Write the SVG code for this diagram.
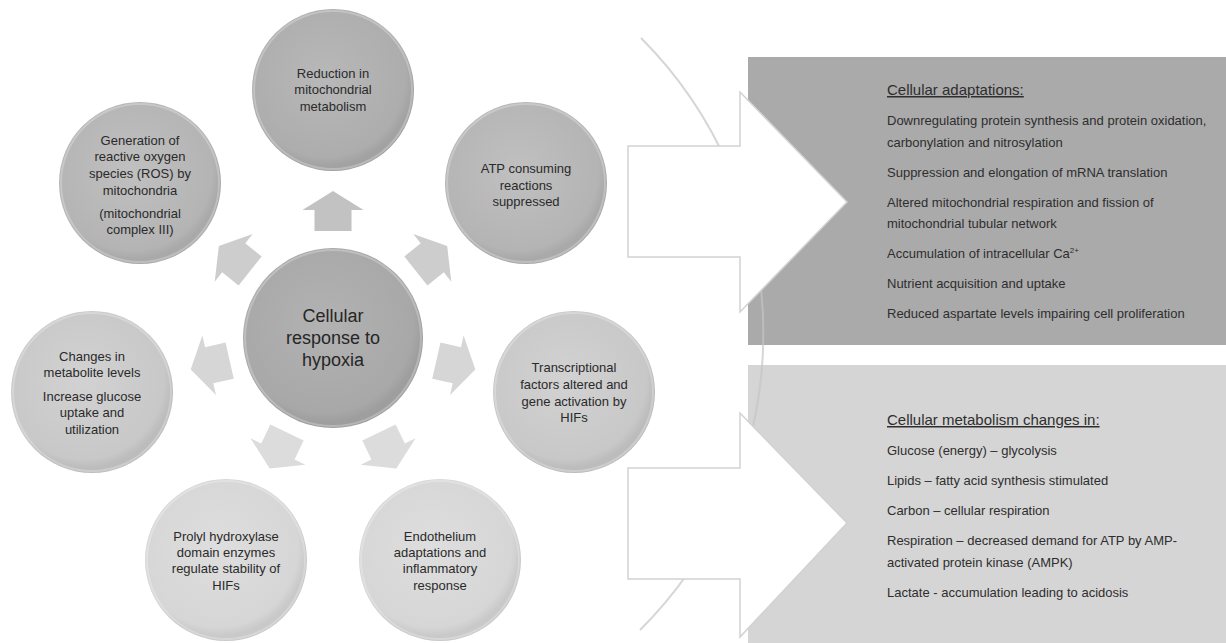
<svg xmlns="http://www.w3.org/2000/svg" width="1226" height="643" viewBox="0 0 1226 643">
<style>
.ct{font-family:"Liberation Sans",Arial,sans-serif;font-size:13px;fill:#2a2a2a;text-anchor:middle}
.cc{font-family:"Liberation Sans",Arial,sans-serif;font-size:18px;fill:#262626;text-anchor:middle}
.bt{font-family:"Liberation Sans",Arial,sans-serif;font-size:13px;fill:#2e2e2e}
.bh{font-family:"Liberation Sans",Arial,sans-serif;font-size:15px;fill:#2e2e2e;text-decoration:underline}
.big{fill:#ffffff;stroke:#d2d2d2;stroke-width:1.5}
.sa{stroke:none}
.rim{fill:none;stroke:#ffffff;stroke-opacity:0.25;stroke-width:2}
</style>
<defs>
<radialGradient id="g0" cx="45%" cy="42%" r="55%"><stop offset="0" stop-color="#b2b2b2"/><stop offset="0.9" stop-color="#a8a8a8"/><stop offset="1" stop-color="#9e9e9e"/></radialGradient>
<radialGradient id="g1" cx="45%" cy="42%" r="55%"><stop offset="0" stop-color="#b8b8b8"/><stop offset="0.9" stop-color="#adadad"/><stop offset="1" stop-color="#a2a2a2"/></radialGradient>
<radialGradient id="g2" cx="45%" cy="42%" r="55%"><stop offset="0" stop-color="#c0c0c0"/><stop offset="0.9" stop-color="#b4b4b4"/><stop offset="1" stop-color="#a9a9a9"/></radialGradient>
<radialGradient id="g3" cx="45%" cy="42%" r="55%"><stop offset="0" stop-color="#d2d2d2"/><stop offset="0.9" stop-color="#c8c8c8"/><stop offset="1" stop-color="#bcbcbc"/></radialGradient>
<radialGradient id="g4" cx="45%" cy="42%" r="55%"><stop offset="0" stop-color="#dedede"/><stop offset="0.9" stop-color="#d6d6d6"/><stop offset="1" stop-color="#c9c9c9"/></radialGradient>
<path id="sm" d="M-18.5,0 L18.5,0 L18.5,-21 L30.5,-21 L0,-40 L-30.5,-21 L-18.5,-21 Z"/>
</defs>
<rect width="1226" height="643" fill="#ffffff"/>

<g id="box-adaptations">
<rect x="748" y="57" width="478" height="288" fill="#aaaaaa"/>
<text class="bh" x="887" y="95">Cellular adaptations:</text>
<text class="bt" x="887" y="125">Downregulating protein synthesis and protein oxidation,</text>
<text class="bt" x="887" y="147">carbonylation and nitrosylation</text>
<text class="bt" x="887" y="177">Suppression and elongation of mRNA translation</text>
<text class="bt" x="887" y="207">Altered mitochondrial respiration and fission of</text>
<text class="bt" x="887" y="228">mitochondrial tubular network</text>
<text class="bt" x="887" y="258">Accumulation of intracellular Ca<tspan dy="-5" font-size="8">2+</tspan></text>
<text class="bt" x="887" y="288">Nutrient  acquisition and uptake</text>
<text class="bt" x="887" y="318">Reduced aspartate levels impairing cell proliferation</text>
</g>

<g id="box-metabolism">
<rect x="748" y="365" width="478" height="278" fill="#d5d5d5"/>
<text class="bh" x="887" y="425">Cellular metabolism changes in:</text>
<text class="bt" x="887" y="455">Glucose (energy) – glycolysis</text>
<text class="bt" x="887" y="485">Lipids – fatty  acid synthesis stimulated</text>
<text class="bt" x="887" y="515">Carbon – cellular respiration</text>
<text class="bt" x="887" y="545">Respiration – decreased demand for ATP by AMP-</text>
<text class="bt" x="887" y="567">activated protein kinase (AMPK)</text>
<text class="bt" x="887" y="597">Lactate  - accumulation  leading to acidosis</text>
</g>

<path d="M641,38 A418,418 0 0 1 640,630" fill="none" stroke="#c4c4c4" stroke-opacity="0.7" stroke-width="2"/>

<g id="connectors">
<path class="big" d="M628,146 L740,146 L740,92 L847,202 L740,312 L740,257 L628,257 Z"/>
<path class="big" d="M628,468 L740,468 L740,413 L847,523 L740,637 L740,579 L628,579 Z"/>
<use href="#sm" class="sa" fill="#c2c2c2" transform="translate(333,337) rotate(0) translate(0,-106)"/>
<use href="#sm" class="sa" fill="#cdcdcd" transform="translate(333,337) rotate(51.43) translate(0,-106)"/>
<use href="#sm" class="sa" fill="#d6d6d6" transform="translate(333,337) rotate(102.86) translate(0,-106)"/>
<use href="#sm" class="sa" fill="#dcdcdc" transform="translate(333,337) rotate(154.29) translate(0,-106)"/>
<use href="#sm" class="sa" fill="#dcdcdc" transform="translate(333,337) rotate(205.71) translate(0,-106)"/>
<use href="#sm" class="sa" fill="#d6d6d6" transform="translate(333,337) rotate(257.14) translate(0,-106)"/>
<use href="#sm" class="sa" fill="#cdcdcd" transform="translate(333,337) rotate(308.57) translate(0,-106)"/>
</g>

<g id="center">
<circle cx="333" cy="338" r="90" fill="url(#g0)"/>
<circle class="rim" cx="333" cy="338" r="88"/>
<text class="cc" x="333" y="322">Cellular</text>
<text class="cc" x="333" y="344">response to</text>
<text class="cc" x="333" y="366">hypoxia</text>
</g>

<g id="reduction">
<circle cx="333" cy="90" r="81" fill="url(#g1)"/>
<circle class="rim" cx="333" cy="90" r="79"/>
<text class="ct" x="333" y="77.5">Reduction in</text>
<text class="ct" x="333" y="94">mitochondrial</text>
<text class="ct" x="333" y="110.5">metabolism</text>
</g>

<g id="atp">
<circle cx="526" cy="183" r="81" fill="url(#g2)"/>
<circle class="rim" cx="526" cy="183" r="79"/>
<text class="ct" x="526" y="172.5">ATP consuming</text>
<text class="ct" x="526" y="189.5">reactions</text>
<text class="ct" x="526" y="206">suppressed</text>
</g>

<g id="transcriptional">
<circle cx="574" cy="392" r="81" fill="url(#g3)"/>
<circle class="rim" cx="574" cy="392" r="79"/>
<text class="ct" x="574" y="372">Transcriptional</text>
<text class="ct" x="574" y="389">factors altered and</text>
<text class="ct" x="574" y="406">gene activation by</text>
<text class="ct" x="574" y="422">HIFs</text>
</g>

<g id="endothelium">
<circle cx="440" cy="560" r="81" fill="url(#g4)"/>
<circle class="rim" cx="440" cy="560" r="79"/>
<text class="ct" x="440" y="541">Endothelium</text>
<text class="ct" x="440" y="557">adaptations and</text>
<text class="ct" x="440" y="573">inflammatory</text>
<text class="ct" x="440" y="590">response</text>
</g>

<g id="prolyl">
<circle cx="226" cy="560" r="81" fill="url(#g4)"/>
<circle class="rim" cx="226" cy="560" r="79"/>
<text class="ct" x="226" y="541">Prolyl hydroxylase</text>
<text class="ct" x="226" y="557">domain enzymes</text>
<text class="ct" x="226" y="573">regulate stability of</text>
<text class="ct" x="226" y="590">HIFs</text>
</g>

<g id="changes">
<circle cx="92" cy="392" r="81" fill="url(#g3)"/>
<circle class="rim" cx="92" cy="392" r="79"/>
<text class="ct" x="92" y="361">Changes in</text>
<text class="ct" x="92" y="377">metabolite levels</text>
<text class="ct" x="92" y="401">Increase glucose</text>
<text class="ct" x="92" y="417">uptake and</text>
<text class="ct" x="92" y="434">utilization</text>
</g>

<g id="ros">
<circle cx="140" cy="183" r="81" fill="url(#g2)"/>
<circle class="rim" cx="140" cy="183" r="79"/>
<text class="ct" x="140" y="144.5">Generation of</text>
<text class="ct" x="140" y="161">reactive oxygen</text>
<text class="ct" x="140" y="178">species (ROS) by</text>
<text class="ct" x="140" y="194.5">mitochondria</text>
<text class="ct" x="140" y="217.5">(mitochondrial</text>
<text class="ct" x="140" y="233.5">complex III)</text>
</g>
</svg>
